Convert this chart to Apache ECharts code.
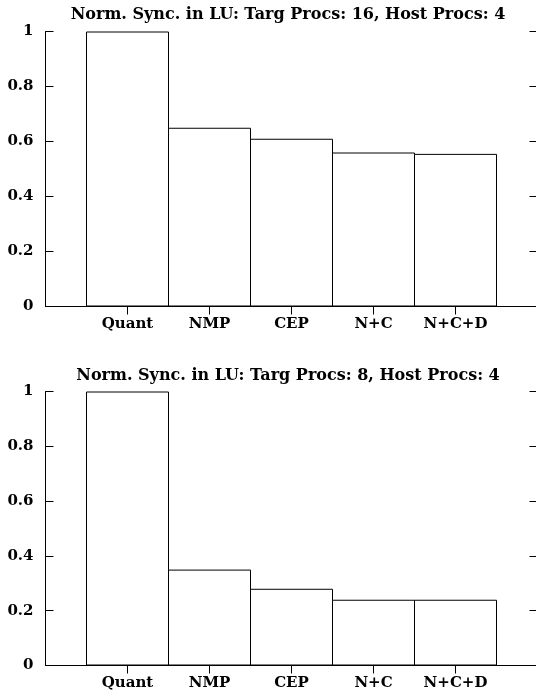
<!DOCTYPE html>
<html>
<head>
<meta charset="utf-8">
<script src="https://cdn.jsdelivr.net/npm/echarts@6/dist/echarts.min.js"></script>
<style>
html,body{margin:0;padding:0;background:#fff;}
#c{width:536px;height:695px;}
</style>
</head>
<body>
<div id="c"></div>
<script>
const categories = ['Quant', 'NMP', 'CEP', 'N+C', 'N+C+D'];
const titles = [
  'Norm. Sync. in LU: Targ Procs: 16, Host Procs: 4',
  'Norm. Sync. in LU: Targ Procs: 8, Host Procs: 4'
];
const values16 = [1.0, 0.65, 0.61, 0.56, 0.555];
const values8 = [1.0, 0.35, 0.28, 0.24, 0.24];
const yTicks = [0, 0.2, 0.4, 0.6, 0.8, 1];

const FONT = 'DejaVu Serif';
const axisCats = [''].concat(categories).concat(['']);
const grids = [
  {left: 45.5, top: 31.5, width: 492, height: 275, outerBoundsMode: 'none', containLabel: false},
  {left: 45.5, top: 391.5, width: 492, height: 274, outerBoundsMode: 'none', containLabel: false}
];
const seriesData = [values16, values8];

const option = {
  animation: false,
  backgroundColor: '#fff',
  title: titles.map((t, i) => ({
    text: t,
    left: 283,
    top: i === 0 ? 2 : 363,
    textAlign: 'center',
    textStyle: {fontFamily: FONT, fontWeight: 'bold', fontSize: 16, color: '#000'}
  })),
  grid: grids,
  xAxis: [],
  yAxis: [],
  series: []
};

grids.forEach((g, i) => {
  const hideEdge = (idx) => idx !== 0 && idx !== axisCats.length - 1;
  option.xAxis.push({
    type: 'category', gridIndex: i, data: axisCats, boundaryGap: false,
    axisLine: {show: true, lineStyle: {color: '#000', width: 1}},
    axisTick: {show: true, inside: true, length: 8, interval: (idx) => hideEdge(idx), lineStyle: {color: '#000'}},
    axisLabel: {interval: 0, margin: 10, fontFamily: FONT, fontWeight: 'bold', fontSize: 15, color: '#000'},
    splitLine: {show: false}
  });
  option.xAxis.push({
    type: 'category', gridIndex: i, data: axisCats, boundaryGap: false, position: 'top',
    axisLine: {show: true, lineStyle: {color: '#000', width: 1}},
    axisTick: {show: true, inside: true, length: 8, interval: (idx) => hideEdge(idx), lineStyle: {color: '#000'}},
    axisLabel: {show: false},
    splitLine: {show: false}
  });
  option.yAxis.push({
    type: 'value', gridIndex: i, min: 0, max: 1, interval: 0.2,
    axisLine: {show: true, lineStyle: {color: '#000', width: 1}},
    axisTick: {show: true, inside: true, length: 8, lineStyle: {color: '#000'}},
    axisLabel: {margin: 12, fontFamily: FONT, fontWeight: 'bold', fontSize: 15, color: '#000',
      formatter: (v) => String(yTicks.find(t => Math.abs(t - v) < 1e-9) ?? v)},
    splitLine: {show: false}
  });
  option.yAxis.push({
    type: 'value', gridIndex: i, min: 0, max: 1, interval: 0.2, position: 'right',
    axisLine: {show: true, lineStyle: {color: '#000', width: 1}},
    axisTick: {show: true, inside: true, length: 8, lineStyle: {color: '#000'}},
    axisLabel: {show: false},
    splitLine: {show: false}
  });
  option.series.push({
    type: 'bar',
    xAxisIndex: i * 2,
    yAxisIndex: i * 2,
    data: [null].concat(seriesData[i]).concat([null]),
    barWidth: 83,
    barGap: '0%',
    itemStyle: {color: '#fff', borderColor: '#000', borderWidth: 1},
    z: 1
  });
});

const chart = echarts.init(document.getElementById('c'), null, {renderer: 'canvas'});
chart.setOption(option);
</script>
</body>
</html>
